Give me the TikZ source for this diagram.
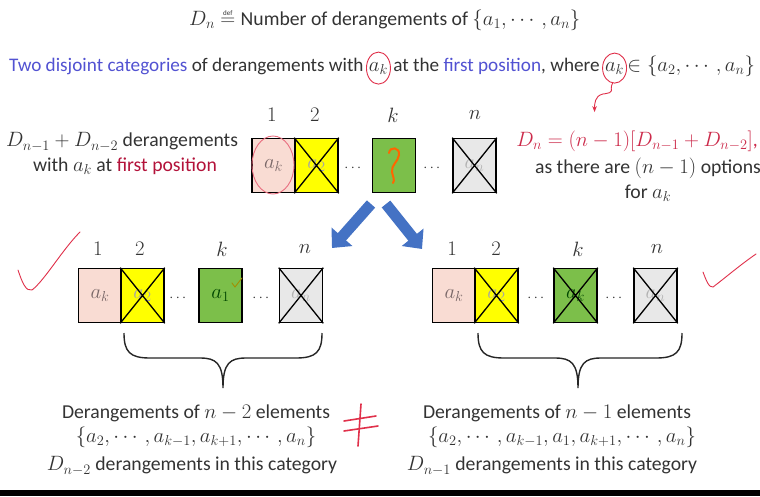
\documentclass[tikz,border=0pt]{standalone}
\usepackage{amsmath}
\usepackage{fontspec}
\setmainfont{Carlito}
\usetikzlibrary{arrows.meta,calc}
\definecolor{txt}{HTML}{333333}
\definecolor{catblue}{HTML}{5252D2}
\definecolor{posred}{HTML}{B3123A}
\definecolor{fred}{HTML}{CC2A4A}
\definecolor{cpink}{HTML}{F9DCD3}
\definecolor{cyel}{HTML}{FFFF00}
\definecolor{cgreen}{HTML}{7CBF4A}
\definecolor{cgray}{HTML}{E8E8E8}
\definecolor{arrowblue}{HTML}{4472C4}
\definecolor{ink}{HTML}{E0304A}
\definecolor{akgray}{HTML}{7A6868}
\newcommand\crossit[1]{\draw[line width=1.3pt] (#1.north west) -- (#1.south east) (#1.north east) -- (#1.south west);}
\begin{document}
\begin{tikzpicture}[x=1pt,y=-1pt,
  every node/.style={text=txt},
  big/.style={font=\fontsize{19.7}{24}\selectfont, inner sep=0pt},
  mid/.style={font=\fontsize{19.2}{24}\selectfont, inner sep=0pt},
  cell/.style={draw=black, line width=1.6pt, minimum width=43pt, minimum height=54pt, inner sep=0pt, font=\fontsize{19.7}{24}\selectfont},
  pinkcell/.style={cell, fill=cpink, text=akgray},
  yelcell/.style={cell, fill=cyel, text=black!35},
  greencell/.style={cell, fill=cgreen, text=black!45!green!50!black},
  graycell/.style={cell, fill=cgray, text=black!30},
  poslabel/.style={font=\fontsize{21}{24}\selectfont, inner sep=0pt},
  dots/.style={font=\fontsize{15}{16}\selectfont, inner sep=0pt},
  bluearrow/.style={draw=arrowblue, line width=11pt, -{Triangle[length=15pt,width=27pt]}},
  bracestyle/.style={draw=black!85, line width=1.4pt},
  annot/.style={draw=ink, line width=0.9pt, line cap=round}
]
\useasboundingbox (0,0) rectangle (760,496);
\fill[white] (0,0) rectangle (760,496);
\fill[black] (0,490) rectangle (760,496);

% title line, in pieces
\node[big, anchor=base west] (tD) at (189,25) {$D_n$};
\node[big, anchor=base west] (teq) at ([xshift=5pt]tD.base east) {$=$};
\node[inner sep=0pt, font=\fontsize{7}{8}\selectfont, anchor=south] (tdef) at ([yshift=2pt]teq.north) {def};
\node[big, anchor=base west] (tmain) at ([xshift=5pt]teq.base east) {Number of derangements of $\{a_1,\cdots,a_n\}$};

% second line, in pieces
\node[mid, anchor=base west] (c1) at (9,71) {{\color{catblue}Two disjoint categories} of derangements with};
\node[mid, anchor=base west] (c2) at ([xshift=5pt]c1.base east) {$a_k$};
\node[mid, anchor=base west] (c3) at ([xshift=5pt]c2.base east) {at the {\color{catblue}first position}, where};
\node[mid, anchor=base west] (c4) at ([xshift=5pt]c3.base east) {$a_k$};
\node[mid, anchor=base west] (c5) at ([xshift=3pt]c4.base east) {$\in\{a_2,\cdots,a_n\}$};

% side texts
\node[big] (lt1) at (122,142) {$D_{n-1}+D_{n-2}$ derangements};
\node[big] (lt2) at (125,166) {with $a_k$ at {\color{posred}first position}};
\node[big, text=fred] (rt1) at (637,141) {$D_n=(n-1)[D_{n-1}+D_{n-2}]$,};
\node[big] (rt2) at (648,168) {as there are $(n-1)$ options};
\node[big] (rt3) at (648,193) {for $a_k$};

% top row
\node[pinkcell] (t1) at (273.5,165.5) {$a_k$};
\node[yelcell] (t2) at (316.5,165.5) {$a_2$};
\node[greencell] (tk) at (394,165.5) {};
\node[graycell] (tn) at (474.5,165.5) {$a_n$};
\crossit{t2}\crossit{tn}
\node[dots] (td1) at (354,168) {$\cdots$};
\node[dots] (td2) at (433,168) {$\cdots$};
\node[poslabel] (tl1) at (272,115) {$1$};
\node[poslabel] (tl2) at (315,115) {$2$};
\node[poslabel] (tlk) at (393,115) {$k$};
\node[poslabel] (tln) at (475,115) {$n$};

% bottom-left row
\node[pinkcell] (l1) at (100,295.5) {$a_k$};
\node[yelcell] (l2) at (142.5,295.5) {$a_2$};
\node[greencell] (lk) at (220.5,295.5) {$a_1$};
\node[graycell] (ln) at (301,295.5) {$a_n$};
\crossit{l2}\crossit{ln}
\node[dots] (ld1) at (179,298) {$\cdots$};
\node[dots] (ld2) at (262,298) {$\cdots$};
\node[poslabel] (ll1) at (98,249) {$1$};
\node[poslabel] (ll2) at (140,249) {$2$};
\node[poslabel] (llk) at (222,249) {$k$};
\node[poslabel] (lln) at (305,249) {$n$};

% bottom-right row
\node[pinkcell] (r1) at (454,295.5) {$a_k$};
\node[yelcell] (r2) at (496.5,295.5) {$a_2$};
\node[greencell] (rk) at (575.5,295.5) {$a_k$};
\node[graycell] (rn) at (655.5,295.5) {$a_n$};
\crossit{r2}\crossit{rk}\crossit{rn}
\node[dots] (rd1) at (537,298) {$\cdots$};
\node[dots] (rd2) at (615,298) {$\cdots$};
\node[poslabel] (rl1) at (452,249) {$1$};
\node[poslabel] (rl2) at (496,249) {$2$};
\node[poslabel] (rlk) at (578,249) {$k$};
\node[poslabel] (rln) at (657,249) {$n$};

% blue arrows
\coordinate (la1) at (371,204);
\coordinate (la2) at (332,248);
\coordinate (ra1) at (386,204);
\coordinate (ra2) at (422,249);
\draw[bluearrow] (la1) -- (la2);
\draw[bluearrow] (ra1) -- (ra2);

% braces
\draw[bracestyle] (124,333) .. controls (124,352) and (130,358) .. (150,358) -- (200,358)
  .. controls (216,358) and (223,363) .. (223,388)
  .. controls (223,363) and (230,358) .. (246,358) -- (296,358)
  .. controls (316,358) and (322,352) .. (322,333);
\draw[bracestyle] (478,333) .. controls (478,352) and (484,358) .. (504,358) -- (555,358)
  .. controls (571,358) and (578,363) .. (578,388)
  .. controls (578,363) and (585,358) .. (601,358) -- (656,358)
  .. controls (676,358) and (682,352) .. (682,333);

% bottom texts
\node[big] (lb1) at (196,413) {Derangements of $n-2$ elements};
\node[big] (lb2) at (196,437) {$\{a_2,\cdots,a_{k-1},a_{k+1},\cdots,a_n\}$};
\node[big] (lb3) at (192,466) {$D_{n-2}$ derangements in this category};
\node[big] (rb1) at (557,413) {Derangements of $n-1$ elements};
\node[big] (rb2) at (562,437) {$\{a_2,\cdots,a_{k-1},a_1,a_{k+1},\cdots,a_n\}$};
\node[big] (rb3) at (552,466) {$D_{n-1}$ derangements in this category};

% hand-drawn annotations
\draw[annot] (c2.center) ellipse [x radius=12pt, y radius=16pt];
\draw[annot] (c4.center) ellipse [x radius=12pt, y radius=15pt];
\draw[annot, -{Stealth[length=6pt]}] ([xshift=-2pt,yshift=-15pt]c4.center) .. controls +(-4,8) and +(14,-2) .. ([xshift=-12pt,yshift=-26pt]c4.center) .. controls +(-8,2) and +(0,-8) .. ([xshift=-20pt,yshift=-44pt]c4.center);
\draw[annot, draw=ink!70] (273,165) ellipse [x radius=21pt, y radius=29pt];
\draw[draw=orange!80!red, line width=2pt, line cap=round] (389,153) .. controls (390,146) and (400,147) .. (399,155) .. controls (398,162) and (391,165) .. (392,172) .. controls (393,177) and (395,180) .. (393,183);
\draw[draw=olive!80!orange, line width=0.9pt, line cap=round] (232,283) -- (235,287) -- (242,278);
\draw[annot] (18,270) .. controls (22,282) and (26,292) .. (32,290) .. controls (45,280) and (62,250) .. (80,232);
\draw[annot] (703,272) .. controls (706,280) and (709,288) .. (713,287) .. controls (725,278) and (740,265) .. (756,254);
\draw[annot, line width=1.6pt] (361,404) -- (358,446);
\draw[annot, line width=1.6pt] (344,421) -- (376,416);
\draw[annot, line width=1.6pt] (344,431) -- (378,426);
\end{tikzpicture}
\end{document}
